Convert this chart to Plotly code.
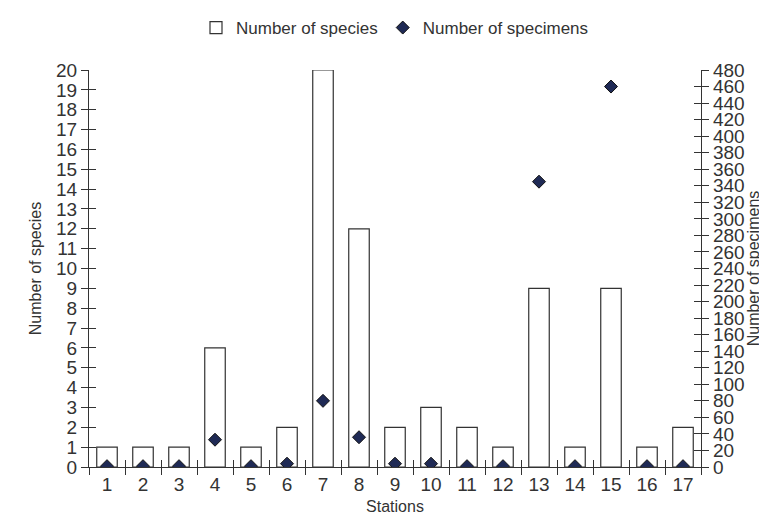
import plotly.graph_objects as go

stations = [str(i) for i in range(1, 18)]
species = [1, 1, 1, 6, 1, 2, 20, 12, 2, 3, 2, 1, 9, 1, 9, 1, 2]
specimens = [1, 1, 1, 33, 1, 4, 80, 36, 4, 4, 1, 1, 345, 1, 460, 1, 1]
species_ticks = list(range(0, 21))
specimen_ticks = list(range(0, 481, 20))

FONT = "Liberation Sans Narrow, Liberation Sans, Arial, sans-serif"
INK = "#333333"

fig = go.Figure()
fig.add_trace(go.Bar(
    x=stations, y=species, name="Number of species",
    marker=dict(color="white", line=dict(color=INK, width=1.2)),
    width=0.57, yaxis="y",
))
fig.add_trace(go.Scatter(
    x=stations, y=specimens, name="Number of specimens", mode="markers",
    marker=dict(symbol="diamond", size=10, color="#1f2a55",
                line=dict(color="#111111", width=1)),
    yaxis="y2", xaxis="x",
))

axis_common = dict(showgrid=False, zeroline=False, linecolor=INK, linewidth=1.2,
                   tickcolor=INK, tickwidth=1.2,
                   tickfont=dict(family=FONT, size=19, color=INK))

fig.update_layout(
    width=767, height=517,
    paper_bgcolor="white", plot_bgcolor="white",
    margin=dict(l=81, r=74, t=62, b=58),
    font=dict(family=FONT, color=INK),
    showlegend=True,
    legend=dict(orientation="h", x=0.5, xanchor="center", y=1 - 20 / 517, yanchor="middle",
                yref="container", font=dict(family=FONT, size=17, color=INK),
                itemwidth=30, tracegroupgap=0),
    xaxis=dict(**axis_common, type="category", tickson="boundaries", ticks="outside",
               ticklen=7, showline=True, range=[-0.5, 16.5],
               title=dict(text="Stations", font=dict(family=FONT, size=16, color=INK), standoff=6)),
    xaxis2=dict(overlaying="x", matches="x", type="category", tickson="boundaries",
                ticks="inside", ticklen=7, tickcolor=INK, tickwidth=1.2,
                showticklabels=False, showgrid=False, zeroline=False, showline=False,
                side="bottom"),
    yaxis=dict(**axis_common, range=[0, 20], tickvals=species_ticks, ticks="outside",
               ticklen=7, showline=True,
               title=dict(text="Number of species", font=dict(family=FONT, size=16, color=INK), standoff=10)),
    yaxis3=dict(overlaying="y", matches="y", range=[0, 20], tickvals=species_ticks,
                ticks="inside", ticklen=7, tickcolor=INK, tickwidth=1.2,
                showticklabels=False, showgrid=False, zeroline=False, showline=False, side="left"),
    yaxis2=dict(**axis_common, range=[0, 480], tickvals=specimen_ticks, ticks="outside",
                ticklen=7, showline=True, overlaying="y", side="right",
                title=dict(text="Number of specimens", font=dict(family=FONT, size=16, color=INK), standoff=4)),
    yaxis4=dict(overlaying="y", range=[0, 480], tickvals=specimen_ticks,
                ticks="inside", ticklen=7, tickcolor=INK, tickwidth=1.2,
                showticklabels=False, showgrid=False, zeroline=False, showline=False, side="right"),
)
fig.add_trace(go.Scatter(x=stations, y=[None] * 17, xaxis="x2", yaxis="y3",
                         showlegend=False, hoverinfo="skip"))
fig.add_trace(go.Scatter(x=stations, y=[None] * 17, xaxis="x", yaxis="y4",
                         showlegend=False, hoverinfo="skip"))

fig.write_html("out.html")
